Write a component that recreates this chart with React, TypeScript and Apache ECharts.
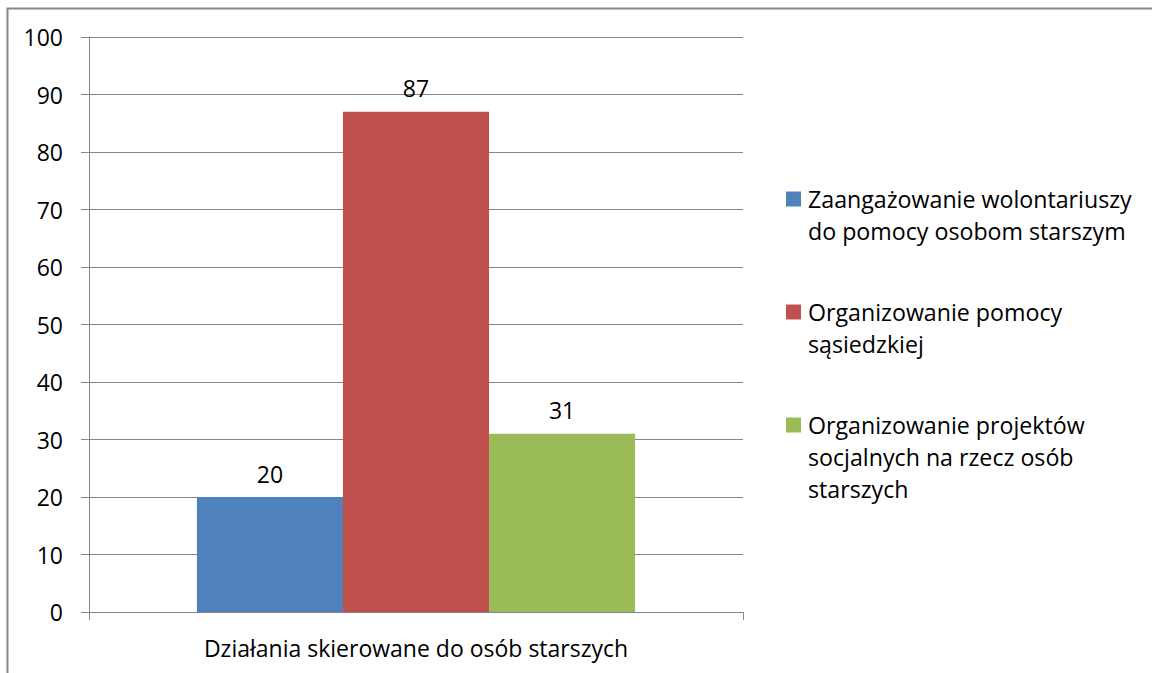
import React, { useEffect, useRef } from "react";
import * as echarts from "echarts";

const categories = ["Działania skierowane do osób starszych"];
const seriesNames = [
  "Zaangażowanie wolontariuszy do pomocy osobom starszym",
  "Organizowanie pomocy sąsiedzkiej",
  "Organizowanie projektów socjalnych na rzecz osób starszych",
];
const legendLines = [
  ["Zaangażowanie wolontariuszy", "do pomocy osobom starszym"],
  ["Organizowanie pomocy", "sąsiedzkiej"],
  ["Organizowanie projektów", "socjalnych na rzecz osób", "starszych"],
];
const seriesValues = [[20], [87], [31]];
const colors = ["#4F81BD", "#C0504D", "#9BBB59"];
const yTicks = { min: 0, max: 100, interval: 10 };

const FONT = "'Open Sans', sans-serif";
const FS = 23;

export default function App() {
  const ref = useRef<HTMLDivElement>(null);
  useEffect(() => {
    if (!ref.current) return;
    const chart = echarts.init(ref.current, null, { renderer: "svg" });
    const rich: Record<string, any> = {
      g: { width: 7 },
      ind: { width: 22 },
      t: { fontSize: 23.2, fontFamily: FONT, color: "#000", lineHeight: 32 },
    };
    colors.forEach((c, i) => {
      rich["sq" + i] = { width: 15, height: 15, backgroundColor: c };
    });
    const option: any = {
      animation: false,
      backgroundColor: "#fff",
      textStyle: { fontFamily: FONT },
      graphic: [
        {
          type: "polyline",
          shape: { points: [[7.5, 700], [7.5, 8.5], [1200, 8.5]] },
          style: { stroke: "#878787", lineWidth: 2, fill: "none" },
          silent: true,
        },
      ],
      grid: { left: 89, right: 409, top: 37, bottom: 61 },
      legend: {
        orient: "vertical",
        left: 776,
        top: 178,
        itemWidth: 0,
        itemHeight: 0,
        itemGap: 49,
        selectedMode: false,
        icon: "rect",
        data: seriesNames,
        formatter: (name: string) => {
          const i = seriesNames.indexOf(name);
          const lines = legendLines[i];
          return lines
            .map((l, k) =>
              k === 0 ? `{sq${i}|}{g|}{t|${l}}` : `{ind|}{t|${l}}`
            )
            .join("\n");
        },
        textStyle: { rich, lineHeight: 32 },
      },
      xAxis: {
        type: "category",
        data: categories,
        axisLine: { lineStyle: { color: "#868686", width: 1 } },
        axisTick: { show: true, length: 8, lineStyle: { color: "#868686" } },
        axisLabel: { color: "#000", fontSize: FS, fontFamily: FONT, margin: 24 },
      },
      yAxis: {
        type: "value",
        min: yTicks.min,
        max: yTicks.max,
        interval: yTicks.interval,
        axisLine: { show: true, lineStyle: { color: "#868686" } },
        axisTick: { show: true, length: 8, lineStyle: { color: "#868686" } },
        splitLine: { lineStyle: { color: "#868686" } },
        axisLabel: { color: "#000", fontSize: FS, fontFamily: FONT, margin: 26 },
      },
      series: seriesNames.map((n, i) => ({
        type: "bar",
        name: n,
        data: seriesValues[i],
        itemStyle: { color: colors[i] },
        barGap: "0%",
        barCategoryGap: "33%",
        label: {
          show: true,
          position: "top",
          distance: 12,
          color: "#000",
          fontSize: FS,
          fontFamily: FONT,
        },
      })),
    };
    chart.setOption(option);
    return () => chart.dispose();
  }, []);
  return (
    <div
      ref={ref}
      style={{ position: "fixed", left: 0, top: 0, width: 1152, height: 673 }}
    />
  );
}
